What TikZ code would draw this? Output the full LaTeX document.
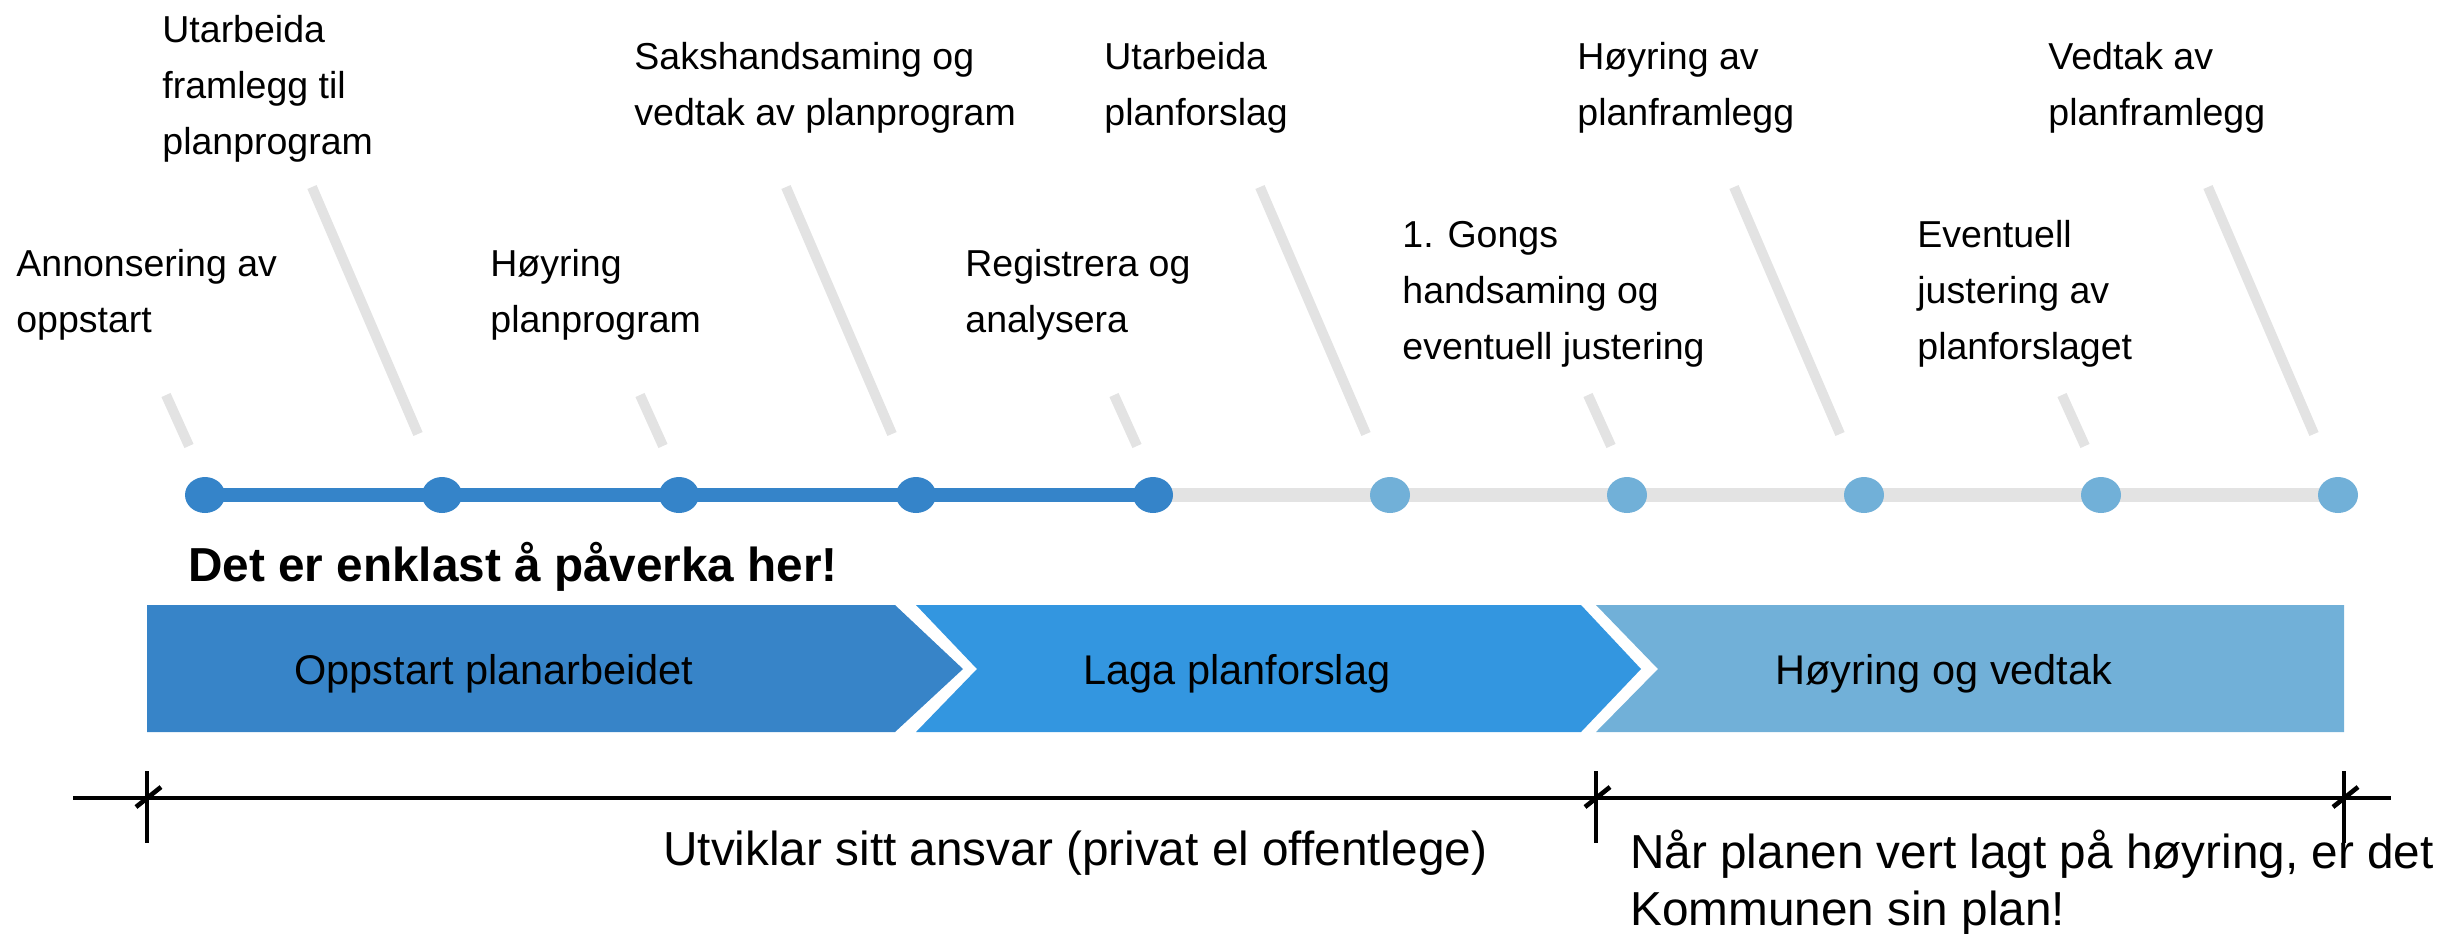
\documentclass[tikz,border=0pt]{standalone}
\usepackage{fontspec}
\setmainfont{Liberation Sans}
\usetikzlibrary{shapes.geometric,calc}

\definecolor{stepdark}{HTML}{3584C9}
\definecolor{steplight}{HTML}{71B0D8}
\definecolor{railgray}{HTML}{E3E3E3}
\definecolor{phaseA}{HTML}{3784C8}
\definecolor{phaseB}{HTML}{3396E0}
\definecolor{phaseC}{HTML}{71B0D8}

\begin{document}
\begin{tikzpicture}[x=0.5pt,y=-0.5pt,
  dot/.style={ellipse,minimum width=20pt,minimum height=18pt,inner sep=0pt},
  stem/.style={draw=railgray,line width=5pt},
  rail/.style={line width=6.75pt},
  lbl/.style={anchor=north west,align=left,inner sep=0pt,
    font={\fontsize{18.75pt}{28pt}\selectfont}},
  phaselbl/.style={anchor=base,inner sep=0pt,font={\fontsize{20.75pt}{26pt}\selectfont}},
  bigtxt/.style={inner sep=0pt,font={\fontsize{23.85pt}{28.5pt}\selectfont}},
  axisline/.style={line width=2pt,black},
  tickmark/.style={line width=2pt,black},
  slash/.style={line width=2.3pt,black}
]
\useasboundingbox (0,0) rectangle (2443,933);

% step labels above the timeline (the strut fixes the first baseline)
\node[lbl] (l1) at (16,237) {\strut Annonsering av\\oppstart};
\node[lbl] (l2) at (162,2.5) {\strut Utarbeida\\framlegg til\\planprogram};
\node[lbl] (l3) at (490,237) {\strut Høyring\\planprogram};
\node[lbl] (l4) at (634,30.3) {\strut Sakshandsaming og\\vedtak av planprogram};
\node[lbl] (l5) at (965,237) {\strut Registrera og\\analysera};
\node[lbl] (l6) at (1104,30.3) {\strut Utarbeida\\planforslag};
\node[lbl] (l7) at (1402,207.5) {\strut 1. Gongs\\handsaming og\\eventuell justering};
\node[lbl] (l8) at (1577,30.3) {\strut Høyring av\\planframlegg};
\node[lbl] (l9) at (1917,207.5) {\strut Eventuell\\justering av\\planforslaget};
\node[lbl] (l10) at (2048,30.3) {\strut Vedtak av\\planframlegg};

% timeline dots
\foreach \i in {1,...,10} {
  \coordinate (p\i) at ({205+237*(\i-1)},495);
}
\draw[rail,railgray] (p1) -- (p10);
\draw[rail,stepdark] (p1) -- (p5);
\foreach \i in {1,...,5} { \node[dot,fill=stepdark] (d\i) at (p\i) {}; }
\foreach \i in {6,...,10} { \node[dot,fill=steplight] (d\i) at (p\i) {}; }

% slanted stems pointing to the dots
\foreach \i in {1,3,5,7,9} {
  \draw[stem] ($(d\i.center)+(-39,-100)$) -- ($(d\i.center)+(-16,-49)$);
}
\foreach \i in {2,4,6,8,10} {
  \draw[stem] ($(d\i.center)+(-130,-308)$) -- ($(d\i.center)+(-24,-61)$);
}

% emphasis line
\node[bigtxt,anchor=base west,font={\fontsize{23.85pt}{28.5pt}\selectfont\bfseries}] (emph) at (188,581) {Det er enklast å påverka her!};

% phase chevrons
\fill[phaseA] (147,605) -- (895,605) -- (963,669) -- (895,732) -- (147,732) -- cycle;
\fill[phaseB] (916,605) -- (1581,605) -- (1641,669) -- (1581,732) -- (916,732) -- (977,669) -- cycle;
\fill[phaseC] (1596,605) -- (2344,605) -- (2344,732) -- (1596,732) -- (1658,669) -- cycle;
\node[phaselbl] (c1) at (494,684) {Oppstart planarbeidet};
\node[phaselbl] (c2) at (1237,684) {Laga planforslag};
\node[phaselbl] (c3) at (1944,684) {Høyring og vedtak};

% responsibility axis
\coordinate (a0) at (73,798);
\coordinate (a1) at (2391,798);
\draw[axisline] (a0) -- (a1);
\foreach \t/\x in {t1/147,t2/1596,t3/2344} {
  \coordinate (\t) at (\x,798);
  \draw[tickmark] ($(\t)+(0,-27)$) -- ($(\t)+(0,45)$);
  \draw[slash] ($(\t)+(-11,9)$) -- ($(\t)+(14,-11)$);
}

\node[bigtxt,anchor=base west] (resp1) at (663,865) {Utviklar sitt ansvar (privat el offentlege)};
\node[bigtxt,anchor=north west,align=left] (resp2) at (1630,828.1) {\strut Når planen vert lagt på høyring, er det\\Kommunen sin plan!};
\end{tikzpicture}
\end{document}
